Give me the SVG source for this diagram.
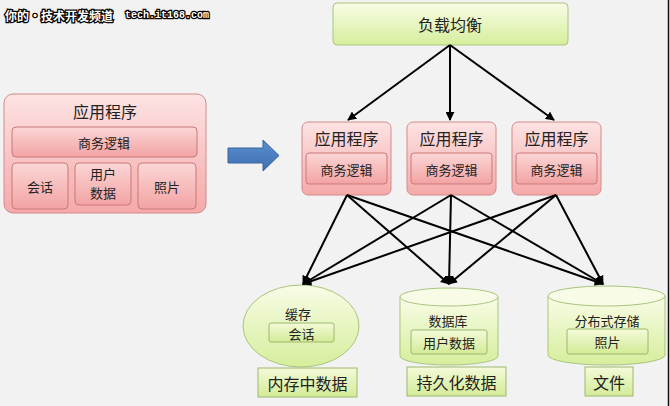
<svg xmlns="http://www.w3.org/2000/svg" width="670" height="406" viewBox="0 0 670 406">
<style>
text{font-family:"Noto Sans CJK SC","Liberation Sans",sans-serif;fill:#222;text-anchor:middle;dominant-baseline:central}
.pk{fill:url(#gp);stroke:#d48a8a;stroke-width:1}
.pki{fill:url(#gpi);stroke:#c97878;stroke-width:1}
.gn{fill:url(#gg);stroke:#a9c57e;stroke-width:1}
.gni{fill:url(#ggi);stroke:#9cb86f;stroke-width:1}
.t17{font-size:16px}
.t16{font-size:16px}
.t13{font-size:13px}
.ln{stroke:#000;stroke-width:2;fill:none}
.wm{font-size:12px;fill:#fff;stroke:#000;stroke-width:2.5;paint-order:stroke;text-anchor:start;font-weight:bold}
.wmm{font-family:"Liberation Mono",monospace;font-size:10px}
</style>
<defs>
<linearGradient id="gp" x1="0" y1="0" x2="0" y2="1"><stop offset="0" stop-color="#fde3e3"/><stop offset="1" stop-color="#f5a9a9"/></linearGradient>
<linearGradient id="gpi" x1="0" y1="0" x2="0" y2="1"><stop offset="0" stop-color="#fbd6d6"/><stop offset="1" stop-color="#f3a3a3"/></linearGradient>
<linearGradient id="gg" x1="0" y1="0" x2="0" y2="1"><stop offset="0" stop-color="#f8fce6"/><stop offset="1" stop-color="#d6ee9c"/></linearGradient>
<linearGradient id="ggi" x1="0" y1="0" x2="0" y2="1"><stop offset="0" stop-color="#f4fad9"/><stop offset="1" stop-color="#d3eb97"/></linearGradient>
<linearGradient id="gb" x1="0" y1="0" x2="0" y2="1"><stop offset="0" stop-color="#5b8fd0"/><stop offset="1" stop-color="#3e6fb0"/></linearGradient>
<marker id="ah" viewBox="0 0 10 10" refX="9" refY="5" markerWidth="4.5" markerHeight="4.5" orient="auto"><path d="M0,0 L10,5 L0,10 z" fill="#000"/></marker>
</defs>
<rect width="670" height="406" fill="#f2f2f2"/>
<line x1="668.5" y1="0" x2="668.5" y2="406" stroke="#111" stroke-width="1.5"/>
<text x="5" y="15" class="wm">你的·技术开发频道</text>
<text x="125" y="15" class="wm wmm">tech.it168.com</text>

<g id="left-app">
<rect x="4" y="94" width="202" height="119" rx="9" class="pk"/>
<text x="105" y="111" class="t17">应用程序</text>
<rect x="12" y="127" width="185" height="30" rx="4" class="pki"/>
<text x="104" y="142" class="t13">商务逻辑</text>
<rect x="12" y="163" width="56" height="46" rx="4" class="pki"/>
<text x="40" y="186" class="t13">会话</text>
<rect x="75" y="163" width="56" height="42" rx="4" class="pki"/>
<text x="103" y="173" class="t13">用户</text>
<text x="103" y="192" class="t13">数据</text>
<rect x="138" y="163" width="58" height="46" rx="4" class="pki"/>
<text x="167" y="186" class="t13">照片</text>
</g>

<g id="big-arrow">
<path d="M228,148 L263,148 L263,140 L279,155.5 L263,171 L263,163 L228,163 z" fill="url(#gb)" stroke="#3a64a0" stroke-width="1"/>
</g>

<g id="lb">
<rect x="333" y="3" width="235" height="42" rx="4" class="gn"/>
<text x="450" y="24" class="t16">负载均衡</text>
</g>

<g id="app1">
<rect x="302" y="122" width="89" height="73" rx="6" class="pk"/>
<text x="346.5" y="138" class="t17">应用程序</text>
<rect x="306" y="153" width="81" height="31" rx="3" class="pki"/>
<text x="346.5" y="169" class="t13">商务逻辑</text>
</g>
<g id="app2">
<rect x="407" y="122" width="89" height="73" rx="6" class="pk"/>
<text x="451.5" y="138" class="t17">应用程序</text>
<rect x="411" y="153" width="81" height="31" rx="3" class="pki"/>
<text x="451.5" y="169" class="t13">商务逻辑</text>
</g>
<g id="app3">
<rect x="512" y="122" width="89" height="73" rx="6" class="pk"/>
<text x="556.5" y="138" class="t17">应用程序</text>
<rect x="516" y="153" width="81" height="31" rx="3" class="pki"/>
<text x="556.5" y="169" class="t13">商务逻辑</text>
</g>

<g id="cache">
<ellipse cx="301" cy="326" rx="58" ry="41" class="gn"/>
<text x="298" y="313" class="t13">缓存</text>
<rect x="269" y="323" width="65" height="19" rx="2" class="gni"/>
<text x="301.5" y="333" class="t13">会话</text>
<rect x="258" y="368" width="99" height="29" class="gni"/>
<text x="307.5" y="383" class="t16">内存中数据</text>
</g>

<g id="db">
<path d="M400,297 L400,356 A49,9 0 0 0 498,356 L498,297" class="gn"/>
<ellipse cx="449" cy="297" rx="49" ry="9" fill="#f8fce6" stroke="#a9c57e"/>
<text x="448" y="320" class="t13">数据库</text>
<rect x="411" y="330" width="76" height="24" rx="2" class="gni"/>
<text x="449" y="342" class="t13">用户数据</text>
<rect x="407" y="367" width="99" height="29" class="gni"/>
<text x="456.5" y="382" class="t16">持久化数据</text>
</g>

<g id="fs">
<path d="M548,296 L548,355 A58.5,10 0 0 0 665,355 L665,296" class="gn"/>
<ellipse cx="606.5" cy="296" rx="58.5" ry="10" fill="#f8fce6" stroke="#a9c57e"/>
<text x="607" y="320" class="t13">分布式存储</text>
<rect x="567" y="329" width="81" height="25" rx="2" class="gni"/>
<text x="607.5" y="341" class="t13">照片</text>
<rect x="585" y="367" width="48" height="29" class="gni"/>
<text x="609" y="382" class="t16">文件</text>
</g>

<g id="connectors">
<line x1="450" y1="45" x2="348" y2="120" class="ln" marker-end="url(#ah)"/>
<line x1="450" y1="45" x2="450" y2="120" class="ln" marker-end="url(#ah)"/>
<line x1="450" y1="45" x2="554" y2="120" class="ln" marker-end="url(#ah)"/>
<line x1="347" y1="195" x2="303" y2="284" class="ln" marker-end="url(#ah)"/>
<line x1="347" y1="195" x2="449" y2="284" class="ln" marker-end="url(#ah)"/>
<line x1="347" y1="195" x2="603" y2="284" class="ln" marker-end="url(#ah)"/>
<line x1="451" y1="195" x2="303" y2="284" class="ln" marker-end="url(#ah)"/>
<line x1="451" y1="195" x2="449" y2="284" class="ln" marker-end="url(#ah)"/>
<line x1="451" y1="195" x2="603" y2="284" class="ln" marker-end="url(#ah)"/>
<line x1="556" y1="195" x2="303" y2="284" class="ln" marker-end="url(#ah)"/>
<line x1="556" y1="195" x2="449" y2="284" class="ln" marker-end="url(#ah)"/>
<line x1="556" y1="195" x2="603" y2="284" class="ln" marker-end="url(#ah)"/>
</g>
</svg>
